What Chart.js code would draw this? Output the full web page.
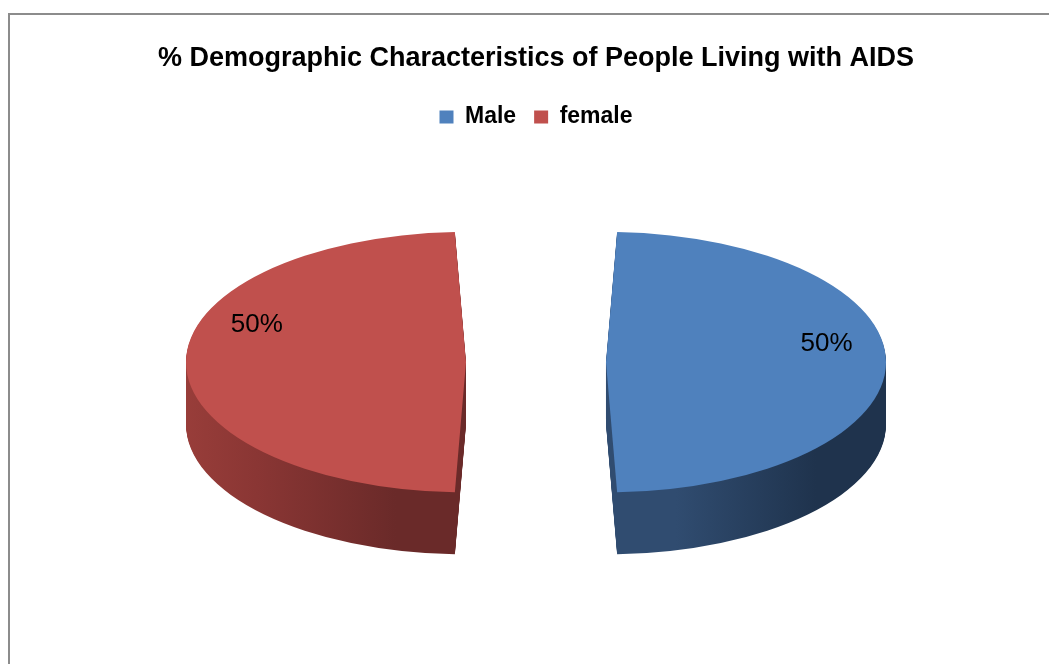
<!DOCTYPE html>
<html>
<head>
<meta charset="utf-8">
<script src="https://cdn.jsdelivr.net/npm/chart.js@4"></script>
<style>
    html, body { margin: 0; padding: 0; background: #fff; overflow: hidden; }
    #frame { position: absolute; left: 8px; top: 13px; width: 1100px; height: 700px; border: 2px solid #8c8c8c; }
    #wrap { position: absolute; left: 20px; top: 0; width: 1029px; height: 664px; }
</style>
</head>
<body>
<div id="frame"></div>
<div id="wrap"><canvas id="pie" width="1029" height="664"></canvas></div>
<script>
const titleText = "% Demographic Characteristics of People Living with AIDS";
const categories = ["Male", "female"];
const shares = [50, 50];
const topColors = ["#4f81bd", "#c0504d"];

// side wall shading, left -> right
const sideColors = [
    ["#304c70", "#1f334d", "#1f334d"],
    ["#a6443f", "#8a3634", "#6a2a29"],
];

const tilt = 0.465; // vertical squash of the disc
const depth = 62;   // wall thickness in px

const pie3d = {
    id: "pie3d",
    beforeDatasetsDraw(chart) {
        const ctx = chart.ctx;
        const arcs = chart.getDatasetMeta(0).data;
        const cy = arcs[0].y;

        // library draw, but keep our fill for the walls
        const wallCtx = new Proxy(ctx, {
            get(t, p) {
                const v = t[p];
                return typeof v === "function" ? v.bind(t) : v;
            },
            set(t, p, v) {
                if (p === "fillStyle" || p === "strokeStyle") return true;
                t[p] = v;
                return true;
            },
        });

        arcs.forEach((arc, i) => {
            const shift = arc.options.offset / 4;
            const mid = (arc.startAngle + arc.endAngle) / 2;
            const cx = arc.x + Math.cos(mid) * shift;
            const r = arc.outerRadius + shift;
            const left = Math.cos(mid) > 0 ? cx : cx - r;
            const right = Math.cos(mid) > 0 ? cx + r : cx;
            const grad = ctx.createLinearGradient(left, 0, right, 0);
            const cols = sideColors[i];
            cols.forEach((c, k) => grad.addColorStop(k / (cols.length - 1), c));
            for (let d = depth; d >= 1; d--) {
                ctx.save();
                ctx.translate(0, cy + d);
                ctx.scale(1, tilt);
                ctx.translate(0, -cy);
                ctx.fillStyle = grad;
                arc.draw(wallCtx);
                ctx.restore();
            }
        });

        ctx.save();
        ctx.translate(0, cy);
        ctx.scale(1, tilt);
        ctx.translate(0, -cy);
    },
    afterDatasetsDraw(chart, args, opts) {
        const ctx = chart.ctx;
        ctx.restore();
        const meta = chart.getDatasetMeta(0);
        const total = shares.reduce((a, b) => a + b, 0);
        ctx.save();
        ctx.font = "26px 'Liberation Sans', Arial, sans-serif";
        ctx.fillStyle = "#000";
        ctx.textAlign = "center";
        ctx.textBaseline = "middle";
        meta.data.forEach((arc, i) => {
            const shift = arc.options.offset / 4;
            const mid = (arc.startAngle + arc.endAngle) / 2;
            const r = arc.outerRadius + shift;
            const a = mid + opts.labelTurn[i];
            const x = arc.x + Math.cos(mid) * shift + Math.cos(a) * r * 0.8;
            const y = arc.y + Math.sin(a) * r * 0.8 * tilt;
            ctx.fillText(Math.round(shares[i] / total * 100) + "%", x, y);
        });
        ctx.restore();
    },
};

new Chart(document.getElementById("pie"), {
    type: "pie",
    data: {
        labels: categories,
        datasets: [
            {
                data: shares,
                backgroundColor: topColors,
                borderWidth: 0,
                offset: 280,
                radius: 210,
                clip: false,
            },
        ],
    },
    options: {
        responsive: false,
        animation: false,
        events: [],
        layout: { padding: { left: 3, right: 0, top: 0, bottom: 78 } },
        plugins: {
            title: {
                display: true,
                text: titleText,
                color: "#000",
                font: { family: "'Liberation Sans', Arial, sans-serif", size: 27, weight: "bold" },
                padding: { top: 42, bottom: 13 },
            },
            legend: {
                display: true,
                position: "top",
                labels: {
                    color: "#000",
                    boxWidth: 14,
                    boxHeight: 13,
                    padding: 18,
                    font: { family: "'Liberation Sans', Arial, sans-serif", size: 23, weight: "bold" },
                },
            },
            tooltip: { enabled: false },
            pie3d: { labelTurn: [-10 * Math.PI / 180, 21 * Math.PI / 180] },
        },
    },
    plugins: [pie3d],
});
</script>
</body>
</html>
